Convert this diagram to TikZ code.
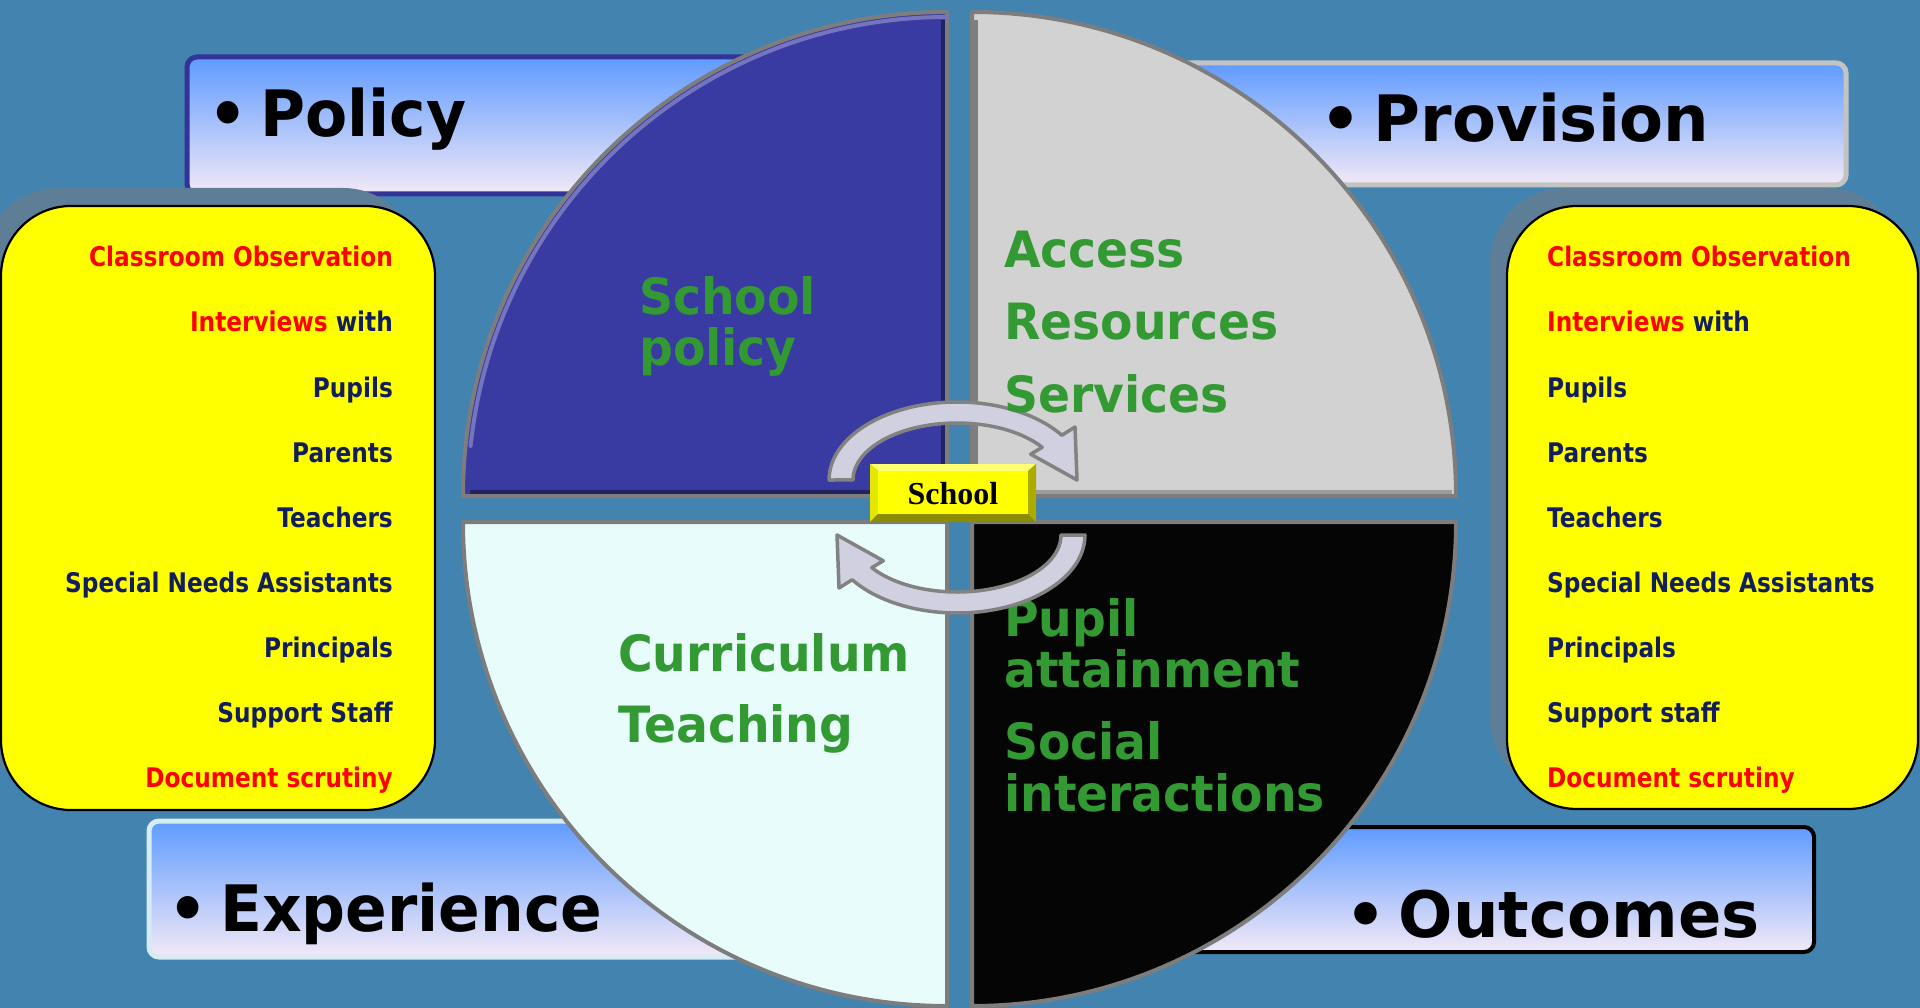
\documentclass[tikz,border=0pt]{standalone}
\usepackage{fontspec}
\setmainfont{DejaVu Sans}
\newfontfamily\labfont[FakeStretch=0.96]{DejaVu Sans}
\newfontfamily\labfontw[FakeStretch=1.0]{DejaVu Sans}
\newfontfamily\listfont[FakeStretch=0.86]{DejaVu Sans}
\newfontfamily\greenfont[FakeStretch=0.945]{DejaVu Sans}
\newfontfamily\btnfont{Liberation Serif}
\definecolor{bgblue}{RGB}{67,131,175}
\definecolor{qTL}{RGB}{58,58,163}
\definecolor{qTR}{RGB}{210,210,210}
\definecolor{qBL}{RGB}{232,252,252}
\definecolor{qBR}{RGB}{5,5,5}
\definecolor{qedge}{RGB}{125,125,125}
\definecolor{grn}{RGB}{51,153,51}
\definecolor{navy}{RGB}{18,30,92}
\definecolor{redtxt}{RGB}{255,0,0}
\definecolor{ylw}{RGB}{255,255,0}
\definecolor{shadowc}{RGB}{94,126,152}
\definecolor{gtop}{RGB}{95,155,255}
\definecolor{gmid}{RGB}{140,195,252}
\definecolor{gbot}{RGB}{243,233,247}
\definecolor{bPolicy}{RGB}{51,51,153}
\definecolor{bProv}{RGB}{195,195,195}
\definecolor{bExp}{RGB}{215,235,242}
\definecolor{arrfill}{RGB}{208,208,224}
\definecolor{arredge}{RGB}{130,130,130}
\tikzset{
  labbox/.style={rounded corners=10, line width=5, top color=gtop, middle color=gmid, bottom color=gbot},
  lab/.style={inner sep=0, anchor=base west, text=black, font=\labfont\bfseries\fontsize{64}{64}\selectfont},
  labw/.style={lab, font=\labfontw\bfseries\fontsize{64}{64}\selectfont},
  ybox/.style={fill=ylw, draw=black, line width=2.2, rounded corners=70},
  yshadow/.style={fill=shadowc, rounded corners=75},
  item/.style={inner sep=0, text=navy, font=\listfont\bfseries\fontsize{27}{27}\selectfont},
  litem/.style={item, anchor=base east},
  ritem/.style={item, anchor=base west},
  quad/.style={draw=qedge, line width=4, line join=round},
  grntext/.style={inner sep=0, anchor=base west, text=grn, font=\greenfont\bfseries\fontsize{50}{50}\selectfont},
  cyc/.style={fill=arrfill, draw=arredge, line width=3.5, line join=round},
}
\begin{document}
\begin{tikzpicture}[x=1pt, y=-1pt]
\useasboundingbox (0,0) rectangle (1920,1008);
\fill[bgblue] (0,0) rectangle (1920,1008);

% label boxes (behind the circle)
\draw[labbox, draw=bPolicy] (187,57) rectangle (900,194);
\draw[labbox, draw=bProv] (1000,63) rectangle (1846,185);
\draw[labbox, draw=bExp] (149,821) rectangle (900,957);
\draw[labbox, draw=black, line width=4] (1100,827) rectangle (1814,952);

\node[lab] (policy) at (208,137) {•\kern0.2em Policy};
\node[labw] (provision) at (1320,142) {•\kern0.2em Provision};
\node[lab] (experience) at (168,931) {•\kern0.2em Experience};
\node[labw] (outcomes) at (1345,937) {•\kern0.2em Outcomes};

% yellow boxes
\fill[yshadow] (-17,188) rectangle (418,792);
\draw[ybox] (1,206) rectangle (435,810);
\fill[yshadow] (1490,188) rectangle (1902,792);
\draw[ybox] (1507,206) rectangle (1918,809);

\node[litem, text=redtxt] (l1) at (393,267) {Classroom Observation};
\node[litem] (l2) at (393,332) {\textcolor{redtxt}{Interviews} with};
\node[litem] (l3) at (393,397) {Pupils};
\node[litem] (l4) at (393,462) {Parents};
\node[litem] (l5) at (393,527) {Teachers};
\node[litem] (l6) at (393,592) {Special Needs Assistants};
\node[litem] (l7) at (393,657) {Principals};
\node[litem] (l8) at (393,722) {Support Staff};
\node[litem, text=redtxt] (l9) at (393,787) {Document scrutiny};

\node[ritem, text=redtxt] (r1) at (1547,267) {Classroom Observation};
\node[ritem] (r2) at (1547,332) {\textcolor{redtxt}{Interviews} with};
\node[ritem] (r3) at (1547,397) {Pupils};
\node[ritem] (r4) at (1547,462) {Parents};
\node[ritem] (r5) at (1547,527) {Teachers};
\node[ritem] (r6) at (1547,592) {Special Needs Assistants};
\node[ritem] (r7) at (1547,657) {Principals};
\node[ritem] (r8) at (1547,722) {Support staff};
\node[ritem, text=redtxt] (r9) at (1547,787) {Document scrutiny};

% circle quadrants
\draw[quad, fill=qTL] (947,496) -- (463,496) arc[start angle=180, end angle=270, radius=484] -- cycle;
\draw[quad, fill=qTR] (972,496) -- (972,12) arc[start angle=270, end angle=360, radius=484] -- cycle;
\draw[quad, fill=qBR] (972,522) -- (1456,522) arc[start angle=0, end angle=90, radius=484] -- cycle;
\draw[quad, fill=qBL] (947,522) -- (947,1006) arc[start angle=90, end angle=180, radius=484] -- cycle;
% bevel highlights
\draw[line width=4, color=qTL!70!white, line cap=round] (947,17) arc[start angle=270, end angle=186, radius=479];
\draw[line width=4, color=qTL!60!black] (943,20) -- (943,492) -- (470,492);
\draw[line width=4, color=qTR!60!black] (976,20) -- (976,492);
\draw[line width=4, color=qTR!75!black] (976,492) -- (1452,492);

% quadrant texts
\node[grntext] (t1) at (639,315) {School};
\node[grntext] (t2) at (639,365) {policy};
\node[grntext] (t3) at (618,671) {Curriculum};
\node[grntext] (t4) at (618,742) {Teaching};
\node[grntext] (t5) at (1004,636) {Pupil};
\node[grntext] (t6) at (1004,687) {attainment};
\node[grntext] (t7) at (1004,759) {Social};
\node[grntext] (t8) at (1004,811) {interactions};

% cycle arrows
\draw[cyc] (829,480) arc[start angle=180, end angle=325, x radius=128, y radius=78]
  -- (1075,427) -- (1077,480) -- (1030.7,454.2) -- (1042.2,447.3)
  arc[start angle=325, end angle=180, x radius=104, y radius=57] -- cycle;
\begin{scope}[rotate around={180:(957,507.5)}]
\draw[cyc] (829,480) arc[start angle=180, end angle=325, x radius=128, y radius=78]
  -- (1075,427) -- (1077,480) -- (1030.7,454.2) -- (1042.2,447.3)
  arc[start angle=325, end angle=180, x radius=104, y radius=57] -- cycle;
\end{scope}

\node[grntext] (t9) at (1004,268) {Access};
\node[grntext] (t10) at (1004,340) {Resources};
\node[grntext] (t11) at (1004,412) {Services};

% School button
\fill[ylw!55!white] (870,464) -- (1036,464) -- (1028,471) -- (878,471) -- cycle;
\fill[ylw!90!black] (870,464) -- (878,471) -- (878,514) -- (870,522) -- cycle;
\fill[ylw!55!black] (870,522) -- (878,514) -- (1028,514) -- (1036,522) -- cycle;
\fill[ylw!67!black] (1036,464) -- (1028,471) -- (1028,514) -- (1036,522) -- cycle;
\fill[ylw] (878,471) rectangle (1028,514);
\node[inner sep=0, anchor=base, font=\btnfont\bfseries\fontsize{32}{32}\selectfont] (school) at (953,504) {School};
\end{tikzpicture}
\end{document}
